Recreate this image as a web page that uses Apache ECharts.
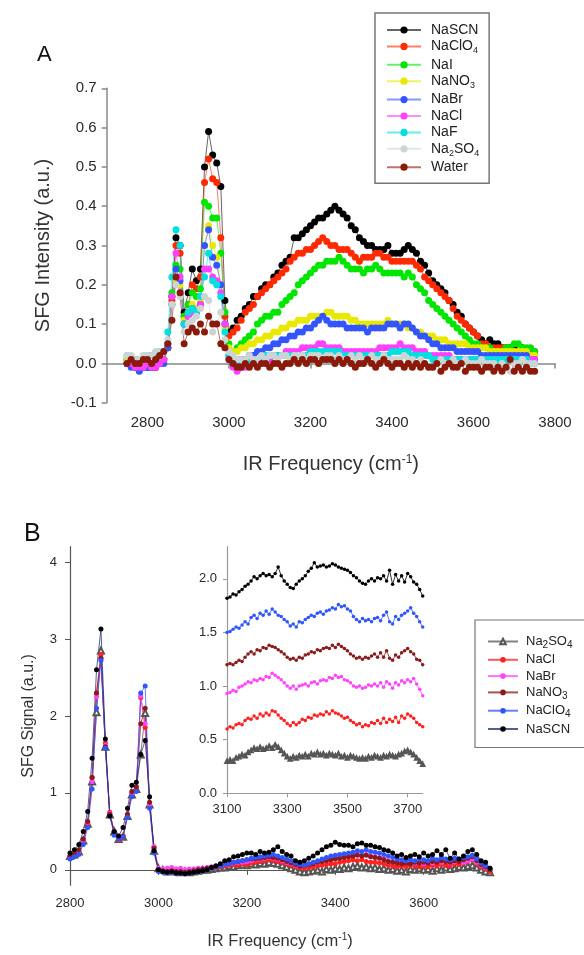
<!DOCTYPE html>
<html><head><meta charset="utf-8">
<script src="https://cdn.jsdelivr.net/npm/echarts@6/dist/echarts.min.js"></script>
<style>
html,body{margin:0;padding:0;background:#fff;}
#a{position:absolute;left:0;top:0;width:584px;height:480px;}
#b{position:absolute;left:0;top:480px;width:584px;height:475px;}
</style>
</head><body><div id="a"></div><div id="b"></div>
<script>
// ---------- Panel A data (x: 2750..3750 cm-1, step 10) ----------
const freqA = Array.from({length:101}, (_, i) => 2750 + 10 * i);
const namesA = ['NaSCN','NaClO4','NaI','NaNO3','NaBr','NaCl','NaF','Na2SO4','Water'];
const colorsA = ['#000000','#ff2a00','#00e600','#e8e800','#3355ff','#ff40ff','#00e0e0','#ccd4d4','#8b1a0a'];

const a_NaSCN = [0.00,0.00,-0.01,-0.01,-0.01,-0.01,-0.01,-0.01,0.00,
 0.01,0.04,0.17,0.32,0.30,0.13,0.18,0.24,0.21,0.24,0.50,0.59,0.53,0.51,0.45,0.16,0.08,
 0.09,0.11,0.12,0.14,0.15,0.17,0.17,0.19,0.20,0.20,
 0.22,0.23,0.25,0.26,0.27,0.32,0.32,0.33,0.34,0.35,
 0.36,0.37,0.37,0.38,0.39,0.40,0.39,0.38,0.37,0.35,
 0.34,0.32,0.31,0.30,0.30,0.29,0.29,0.29,0.30,0.28,
 0.28,0.28,0.29,0.30,0.29,0.28,0.26,0.25,0.23,0.21,
 0.20,0.19,0.18,0.16,0.15,0.13,0.12,0.10,0.09,0.08,
 0.07,0.06,0.05,0.06,0.05,0.05,0.04,0.04,0.04,0.04,
 0.03,0.04,0.03,0.03,0.02];
const a_NaClO4 = [0.01,0.00,0.00,-0.01,0.00,0.00,0.00,-0.01,0.00,
 0.01,0.04,0.16,0.30,0.28,0.12,0.15,0.20,0.19,0.22,0.46,0.52,0.47,0.46,0.32,0.12,0.07,
 0.08,0.09,0.11,0.13,0.14,0.15,0.17,0.18,0.19,0.20,
 0.21,0.22,0.23,0.24,0.26,0.27,0.28,0.28,0.29,0.29,
 0.30,0.31,0.32,0.31,0.30,0.30,0.29,0.29,0.29,0.28,
 0.27,0.26,0.27,0.27,0.27,0.28,0.28,0.27,0.27,0.26,
 0.26,0.26,0.26,0.26,0.26,0.25,0.24,0.22,0.21,0.20,
 0.19,0.18,0.17,0.16,0.14,0.12,0.11,0.10,0.09,0.08,
 0.07,0.05,0.05,0.04,0.04,0.04,0.04,0.04,0.03,0.03,
 0.03,0.03,0.03,0.03,0.03];
const a_NaI = [0.01,0.00,0.00,0.00,0.01,0.00,0.00,0.00,0.01,
 0.01,0.05,0.18,0.25,0.24,0.12,0.15,0.18,0.17,0.19,0.41,0.40,0.37,0.37,0.28,0.13,0.05,
 0.03,0.04,0.05,0.06,0.07,0.08,0.10,0.11,0.12,0.12,
 0.13,0.13,0.15,0.16,0.17,0.18,0.20,0.21,0.22,0.23,
 0.24,0.25,0.25,0.26,0.26,0.26,0.27,0.26,0.25,0.24,
 0.24,0.24,0.23,0.24,0.24,0.25,0.24,0.23,0.23,0.23,
 0.23,0.23,0.22,0.23,0.22,0.20,0.19,0.18,0.16,0.15,
 0.14,0.13,0.12,0.11,0.10,0.09,0.08,0.07,0.06,0.05,
 0.05,0.04,0.04,0.04,0.03,0.03,0.03,0.04,0.04,0.05,
 0.05,0.04,0.04,0.04,0.03];
const a_NaNO3 = [0.01,0.01,0.00,0.00,0.00,0.01,0.00,0.00,0.00,
 0.01,0.04,0.15,0.21,0.20,0.11,0.13,0.15,0.14,0.16,0.30,0.35,0.30,0.27,0.20,0.09,0.04,
 0.03,0.03,0.04,0.04,0.05,0.05,0.06,0.06,0.07,0.07,
 0.08,0.08,0.09,0.09,0.10,0.10,0.11,0.11,0.11,0.12,
 0.12,0.12,0.12,0.13,0.13,0.12,0.12,0.12,0.12,0.11,
 0.11,0.10,0.10,0.10,0.10,0.10,0.10,0.10,0.11,0.10,
 0.10,0.10,0.10,0.09,0.09,0.08,0.08,0.07,0.07,0.07,
 0.06,0.06,0.06,0.05,0.05,0.05,0.05,0.05,0.04,0.04,
 0.04,0.04,0.04,0.03,0.03,0.03,0.03,0.03,0.03,0.03,
 0.03,0.03,0.03,0.02,0.02];
const a_NaBr = [0.00,-0.01,-0.01,-0.02,-0.01,-0.01,-0.01,0.00,0.00,
 0.00,0.04,0.15,0.24,0.21,0.10,0.12,0.14,0.13,0.15,0.30,0.34,0.27,0.25,0.20,0.10,0.02,
 0.00,0.00,0.01,0.01,0.02,0.02,0.03,0.03,0.04,0.04,
 0.05,0.05,0.06,0.06,0.07,0.07,0.08,0.08,0.09,0.09,
 0.10,0.11,0.12,0.11,0.10,0.10,0.10,0.10,0.09,0.09,
 0.09,0.09,0.09,0.08,0.09,0.09,0.09,0.09,0.10,0.10,
 0.10,0.09,0.10,0.10,0.09,0.08,0.07,0.07,0.06,0.05,
 0.05,0.04,0.04,0.04,0.04,0.03,0.03,0.03,0.03,0.03,
 0.03,0.02,0.02,0.02,0.02,0.02,0.02,0.02,0.02,0.02,
 0.02,0.02,0.02,0.01,0.01];
const a_NaCl = [0.00,0.00,-0.01,-0.01,-0.01,0.00,-0.01,-0.01,0.00,
 0.01,0.05,0.17,0.28,0.22,0.10,0.12,0.13,0.13,0.15,0.24,0.24,0.22,0.21,0.18,0.10,0.01,
 -0.01,-0.02,-0.01,-0.01,0.00,0.00,0.00,0.01,0.01,0.01,
 0.02,0.02,0.02,0.03,0.03,0.03,0.03,0.04,0.04,0.04,
 0.04,0.05,0.05,0.04,0.04,0.04,0.04,0.03,0.03,0.03,
 0.03,0.03,0.03,0.03,0.03,0.03,0.04,0.04,0.04,0.04,
 0.04,0.05,0.04,0.04,0.04,0.03,0.03,0.03,0.02,0.02,
 0.02,0.02,0.02,0.02,0.01,0.01,0.01,0.01,0.01,0.01,
 0.01,0.01,0.01,0.01,0.01,0.01,0.01,0.01,0.01,0.01,
 0.01,0.01,0.01,0.01,0.01];
const a_NaF = [0.02,0.01,0.01,0.01,0.01,0.02,0.02,0.02,0.03,
 0.03,0.08,0.22,0.34,0.30,0.10,0.13,0.14,0.13,0.17,0.22,0.28,0.21,0.20,0.17,0.08,0.02,
 0.00,0.01,0.01,0.01,0.01,0.01,0.01,0.01,0.02,0.02,
 0.02,0.02,0.02,0.02,0.02,0.02,0.02,0.02,0.02,0.03,
 0.03,0.03,0.03,0.03,0.03,0.03,0.03,0.02,0.02,0.02,
 0.02,0.02,0.02,0.02,0.02,0.02,0.02,0.02,0.02,0.03,
 0.03,0.03,0.03,0.03,0.02,0.02,0.02,0.02,0.02,0.01,
 0.01,0.01,0.01,0.01,0.01,0.01,0.01,0.01,0.01,0.01,
 0.01,0.01,0.01,0.01,0.01,0.01,0.01,0.01,0.01,0.01,
 0.01,0.01,0.01,0.00,0.00];
const a_Na2SO4 = [0.02,0.02,0.01,0.01,0.02,0.02,0.02,0.03,0.03,
 0.03,0.06,0.15,0.20,0.17,0.08,0.10,0.11,0.12,0.14,0.17,0.16,0.08,0.10,0.13,0.06,0.03,
 0.02,0.01,0.01,0.01,0.02,0.01,0.01,0.02,0.01,0.02,
 0.02,0.01,0.02,0.02,0.01,0.02,0.02,0.02,0.01,0.02,
 0.02,0.02,0.01,0.02,0.02,0.01,0.02,0.01,0.01,0.02,
 0.01,0.02,0.01,0.01,0.02,0.01,0.01,0.02,0.01,0.01,
 0.01,0.01,0.02,0.01,0.01,0.00,0.01,0.00,-0.01,-0.01,
 0.00,0.01,0.00,0.00,0.01,0.00,0.00,0.01,0.00,0.00,
 0.00,0.01,0.00,0.00,0.00,-0.01,0.00,-0.01,-0.02,0.00,
 0.00,0.01,0.00,0.00,0.00];
const a_Water = [0.00,0.01,0.00,0.00,0.01,0.01,0.00,0.01,0.02,
 0.03,0.05,0.11,0.22,0.18,0.05,0.08,0.09,0.08,0.10,0.08,0.12,0.10,0.10,0.05,0.04,0.01,
 0.00,-0.01,-0.01,0.00,-0.01,0.00,-0.01,0.00,0.00,-0.01,
 0.00,0.00,-0.01,0.00,0.00,0.01,0.00,0.01,0.00,0.01,
 0.01,0.00,0.01,0.01,0.01,0.00,0.01,0.00,0.01,0.00,
 -0.01,0.00,0.00,0.01,0.00,-0.01,0.00,0.01,0.00,-0.01,
 0.00,0.00,-0.01,0.00,-0.01,0.00,-0.01,0.00,-0.01,-0.01,
 0.00,-0.02,-0.01,0.00,-0.01,-0.01,0.00,-0.02,-0.01,-0.01,
 -0.01,-0.02,-0.01,-0.01,-0.02,-0.01,-0.02,-0.01,0.01,-0.02,
 -0.01,-0.02,-0.01,-0.02,-0.02];
const valsA = [a_NaSCN,a_NaClO4,a_NaI,a_NaNO3,a_NaBr,a_NaCl,a_NaF,a_Na2SO4,a_Water];
const ticksAx = [2800,3000,3200,3400,3600,3800];

// ---------- Panel B data (main: 2800..3750 step 10) ----------
const freqB = Array.from({length:96}, (_, i) => 2800 + 10 * i);
const namesB = ['Na2SO4','NaCl','NaBr','NaNO3','NaClO4','NaSCN'];
const colorsB = ['#555555','#ff2020','#ff44ff','#8b1a1a','#2f55ff','#000000'];
const b_Na2SO4 = [0.18,0.2,0.24,0.38,0.6,1.15,2.05,2.85,1.6,0.72,
 0.5,0.4,0.43,0.7,0.98,1.05,1.5,2.04,0.85,0.25,
 0.02,0.0,-0.02,0.0,-0.02,-0.03,-0.02,-0.03,-0.02,-0.01,
 0.0,0.0,0.01,0.02,0.03,0.03,0.05,0.04,0.06,0.07,
 0.06,0.08,0.07,0.09,0.08,0.1,0.09,0.08,0.06,0.04,
 0.02,0.0,-0.02,-0.03,-0.02,-0.01,0.0,-0.02,0.01,0.0,
 0.02,0.01,0.03,0.02,0.04,0.05,0.03,0.04,0.02,0.03,
 0.01,0.02,0.0,0.01,-0.01,0.0,-0.02,0.01,0.0,0.02,
 0.0,0.01,-0.01,0.02,0.0,0.03,0.01,0.02,0.04,0.03,
 0.05,0.06,0.03,0.0,-0.02,-0.03];
const b_NaCl = [0.16,0.18,0.22,0.36,0.6,1.2,2.3,2.8,1.65,0.75,
 0.5,0.38,0.42,0.72,1.0,1.05,2.24,1.85,0.82,0.3,
 0.0,-0.02,-0.01,-0.03,-0.02,-0.03,-0.02,-0.02,-0.01,0.0,
 0.0,0.01,0.02,0.03,0.04,0.05,0.06,0.07,0.06,0.08,
 0.07,0.09,0.1,0.11,0.12,0.13,0.12,0.11,0.1,0.08,
 0.06,0.04,0.03,0.02,0.03,0.04,0.05,0.06,0.07,0.08,
 0.08,0.1,0.11,0.12,0.13,0.12,0.13,0.11,0.1,0.1,
 0.09,0.08,0.06,0.05,0.04,0.05,0.04,0.06,0.05,0.04,
 0.05,0.04,0.06,0.05,0.07,0.06,0.05,0.08,0.07,0.09,
 0.11,0.13,0.08,0.04,0.01,-0.02];
const b_NaBr = [0.17,0.19,0.24,0.38,0.62,1.15,2.25,2.75,1.62,0.73,
 0.5,0.4,0.44,0.7,1.0,1.08,2.26,1.9,0.85,0.3,
 0.02,0.01,0.02,0.03,0.01,0.02,0.0,0.01,0.01,0.02,
 0.02,0.03,0.04,0.05,0.06,0.07,0.08,0.09,0.1,0.1,
 0.11,0.12,0.13,0.14,0.15,0.16,0.15,0.14,0.12,0.1,
 0.08,0.06,0.06,0.07,0.08,0.09,0.1,0.12,0.13,0.14,
 0.15,0.16,0.17,0.18,0.19,0.2,0.19,0.2,0.18,0.17,
 0.16,0.14,0.12,0.1,0.1,0.09,0.1,0.08,0.09,0.1,
 0.08,0.1,0.09,0.11,0.1,0.12,0.09,0.11,0.12,0.1,
 0.12,0.14,0.1,0.06,0.03,0.0];
const b_NaNO3 = [0.18,0.21,0.26,0.4,0.63,1.2,2.3,2.75,1.6,0.72,
 0.48,0.4,0.44,0.72,1.02,1.08,1.9,2.1,0.88,0.28,
 0.0,-0.01,-0.02,-0.01,-0.02,-0.02,-0.03,-0.02,-0.01,0.0,
 0.01,0.02,0.03,0.05,0.06,0.08,0.09,0.1,0.11,0.12,
 0.13,0.14,0.14,0.15,0.16,0.17,0.16,0.15,0.13,0.11,
 0.09,0.07,0.05,0.06,0.07,0.08,0.1,0.11,0.12,0.13,
 0.14,0.15,0.16,0.17,0.18,0.19,0.18,0.19,0.17,0.16,
 0.15,0.13,0.11,0.1,0.09,0.08,0.09,0.08,0.1,0.09,
 0.1,0.09,0.11,0.1,0.12,0.11,0.1,0.12,0.11,0.13,
 0.15,0.17,0.12,0.07,0.04,0.0];
const b_NaClO4 = [0.14,0.17,0.2,0.33,0.55,1.05,2.1,2.72,1.58,0.7,
 0.45,0.4,0.43,0.68,0.95,1.02,2.3,2.39,0.8,0.22,
 -0.02,-0.03,-0.04,-0.03,-0.05,-0.04,-0.05,-0.04,-0.03,-0.02,
 -0.01,0.0,0.02,0.04,0.05,0.07,0.08,0.1,0.11,0.12,
 0.13,0.15,0.16,0.17,0.18,0.19,0.2,0.18,0.16,0.14,
 0.12,0.09,0.07,0.06,0.08,0.1,0.12,0.14,0.16,0.18,
 0.19,0.2,0.21,0.22,0.23,0.25,0.24,0.26,0.24,0.23,
 0.22,0.2,0.18,0.16,0.14,0.13,0.12,0.13,0.12,0.14,
 0.13,0.12,0.15,0.13,0.16,0.14,0.13,0.15,0.14,0.16,
 0.17,0.19,0.14,0.09,0.05,0.02];
const b_NaSCN = [0.22,0.26,0.33,0.5,0.76,1.45,2.6,3.13,1.7,0.7,
 0.5,0.44,0.55,0.8,1.1,1.14,1.5,1.68,0.95,0.25,
 0.0,-0.02,-0.03,-0.02,-0.04,-0.04,-0.05,-0.04,-0.03,-0.02,
 -0.01,0.0,0.03,0.05,0.08,0.12,0.13,0.17,0.18,0.2,
 0.22,0.22,0.2,0.24,0.22,0.23,0.26,0.3,0.24,0.2,
 0.18,0.12,0.1,0.12,0.15,0.18,0.22,0.26,0.3,0.32,
 0.36,0.33,0.32,0.32,0.3,0.34,0.35,0.32,0.32,0.3,
 0.29,0.26,0.25,0.22,0.18,0.2,0.16,0.18,0.2,0.17,
 0.22,0.18,0.2,0.25,0.2,0.26,0.15,0.22,0.14,0.18,
 0.24,0.26,0.2,0.12,0.1,0.02];
const valsB = [b_Na2SO4,b_NaCl,b_NaBr,b_NaNO3,b_NaClO4,b_NaSCN];
const ticksBx = [2800,3000,3200,3400,3600];
const ticksBy = [0,1,2,3,4];

// ---------- Inset data (3100..3750 step 10, offset traces) ----------
const freqI = Array.from({length:66}, (_, i) => 3100 + 10 * i);
const i_Na2SO4 = [0.3,0.31,0.3,0.33,0.34,0.36,0.35,0.38,0.4,0.42,
 0.41,0.43,0.41,0.42,0.44,0.42,0.45,0.43,0.4,0.37,
 0.34,0.32,0.34,0.33,0.35,0.34,0.36,0.34,0.37,0.36,
 0.38,0.36,0.37,0.35,0.37,0.36,0.35,0.37,0.34,0.35,
 0.33,0.35,0.34,0.33,0.32,0.33,0.32,0.34,0.33,0.35,
 0.34,0.33,0.35,0.34,0.36,0.35,0.34,0.36,0.37,0.39,
 0.4,0.38,0.36,0.33,0.3,0.27];
const i_NaCl = [0.6,0.62,0.61,0.64,0.65,0.64,0.68,0.7,0.69,0.72,
 0.7,0.74,0.72,0.75,0.73,0.77,0.76,0.73,0.7,0.68,
 0.65,0.63,0.66,0.64,0.66,0.69,0.68,0.71,0.7,0.73,
 0.72,0.74,0.73,0.76,0.74,0.77,0.75,0.74,0.72,0.7,
 0.71,0.68,0.66,0.64,0.65,0.62,0.64,0.63,0.66,0.65,
 0.68,0.65,0.7,0.66,0.69,0.67,0.71,0.66,0.72,0.7,
 0.74,0.72,0.7,0.66,0.64,0.62];
const i_NaBr = [0.93,0.94,0.96,0.95,0.99,1.0,1.02,1.04,1.03,1.06,
 1.05,1.07,1.06,1.09,1.08,1.12,1.1,1.08,1.06,1.03,
 1.0,0.98,1.0,0.97,1.0,1.01,1.02,1.0,1.03,1.04,
 1.02,1.05,1.06,1.05,1.08,1.07,1.1,1.08,1.09,1.06,
 1.05,1.03,1.0,0.99,1.0,0.98,0.99,1.01,1.0,1.02,
 1.0,1.03,0.99,1.04,1.02,0.98,1.03,1.01,1.05,1.03,
 1.06,1.04,1.07,1.02,0.97,0.91];
const i_NaNO3 = [1.2,1.21,1.2,1.22,1.24,1.23,1.27,1.3,1.32,1.3,
 1.34,1.33,1.36,1.35,1.38,1.37,1.36,1.34,1.32,1.3,
 1.27,1.25,1.26,1.24,1.27,1.26,1.29,1.3,1.32,1.31,
 1.34,1.33,1.35,1.36,1.35,1.38,1.36,1.39,1.37,1.35,
 1.33,1.3,1.28,1.26,1.27,1.25,1.27,1.26,1.28,1.3,
 1.27,1.31,1.27,1.33,1.26,1.24,1.29,1.27,1.31,1.33,
 1.35,1.32,1.3,1.25,1.24,1.2];
const i_NaClO4 = [1.5,1.51,1.53,1.55,1.54,1.57,1.6,1.58,1.64,1.66,
 1.63,1.68,1.66,1.7,1.67,1.72,1.69,1.66,1.65,1.62,
 1.6,1.56,1.58,1.55,1.6,1.59,1.62,1.64,1.66,1.65,
 1.68,1.69,1.67,1.7,1.71,1.73,1.72,1.76,1.74,1.75,
 1.72,1.7,1.65,1.62,1.6,1.63,1.61,1.62,1.6,1.63,
 1.64,1.61,1.66,1.69,1.6,1.58,1.65,1.62,1.66,1.68,
 1.7,1.73,1.68,1.65,1.6,1.55];
const i_NaSCN = [1.82,1.83,1.86,1.85,1.88,1.9,1.93,1.95,1.98,2.02,
 2.0,2.03,2.05,2.03,2.04,2.02,2.05,2.11,2.03,1.98,
 1.95,1.92,1.91,1.95,1.98,2.0,2.03,2.07,2.1,2.15,
 2.11,2.12,2.13,2.11,2.12,2.14,2.13,2.11,2.1,2.09,
 2.08,2.06,2.03,2.01,1.98,1.96,1.95,1.98,2.0,1.98,
 2.01,2.0,2.03,1.98,2.08,1.95,2.04,1.98,2.03,1.97,
 2.05,2.02,1.97,1.95,1.9,1.84];
const valsI = [i_Na2SO4,i_NaCl,i_NaBr,i_NaNO3,i_NaClO4,i_NaSCN];
const ticksIx = [3100,3300,3500,3700];
const ticksIy = [0,0.5,1,1.5,2];

// ---------- helpers ----------
const FONT = '"Liberation Sans", Arial, sans-serif';
function check(list, n, tag){ list.forEach((a,k)=>{ if(a.length!==n) console.error(tag+k+' length '+a.length); }); }
check(valsA,101,'A'); check(valsB,96,'B'); check(valsI,66,'I');
function pts(xs, ys){ return xs.map((x,i)=>[x, ys[i]]); }
function sub(name){ return name.split(/(\d)/).filter(s=>s!=='').map(p=>/^\d$/.test(p)?'{s|'+p+'}':'{n|'+p+'}').join(''); }
function richLeg(fs, sfs){ return { n:{fontSize:fs, lineHeight:fs+4, color:'#222', fontFamily:FONT}, s:{fontSize:sfs, verticalAlign:'bottom', color:'#222', fontFamily:FONT} }; }
function richName(fs){ return { n:{fontSize:fs, lineHeight:fs+2, color:'#333', fontFamily:FONT}, sup:{fontSize:Math.round(fs*0.6), verticalAlign:'top', color:'#333', fontFamily:FONT} }; }
const irName = '{n|IR Frequency (cm}{sup|-1}{n|)}';
const plain = v => String(v);
const oneDec = v => v.toFixed(1);

// ---------- Chart A ----------
const chartA = echarts.init(document.getElementById('a'), null, {renderer:'canvas'});
chartA.setOption({
  animation:false,
  backgroundColor:'#ffffff',
  textStyle:{fontFamily:FONT},
  graphic:[{type:'text', left:37, top:44, style:{text:'A', font:'22px "Liberation Sans", Arial, sans-serif', fill:'#111'}}],
  legend:{
    left:375, top:13, orient:'vertical', padding:[10,10,9,11], itemGap:2.4,
    itemWidth:34, itemHeight:9, borderColor:'#777', borderWidth:1.5, borderRadius:0,
    backgroundColor:'#fff',
    textStyle:{padding:[0,0,0,5], rich:richLeg(14,9)}, formatter:sub, data:namesA
  },
  grid:{left:106.7, right:29, top:88.3, bottom:77.3, containLabel:false},
  xAxis:{
    type:'value', min:2700, max:3800,
    axisLine:{lineStyle:{color:'#888', width:1.5}},
    axisTick:{length:5, customValues:ticksAx, lineStyle:{color:'#888', width:1.5}},
    axisLabel:{customValues:ticksAx, margin:13, fontSize:15, color:'#2a2a2a', formatter:plain},
    splitLine:{show:false},
    name:irName, nameLocation:'middle', nameGap:51, nameTextStyle:{rich:richName(20)}
  },
  yAxis:{
    type:'value', min:-0.1, max:0.7, interval:0.1,
    axisLine:{show:true, lineStyle:{color:'#888', width:1.5}},
    axisTick:{show:true, length:5, lineStyle:{color:'#888', width:1.5}},
    axisLabel:{margin:10, fontSize:15, color:'#2a2a2a', formatter:oneDec},
    splitLine:{show:false},
    name:'SFG Intensity (a.u.)', nameLocation:'middle', nameGap:52,
    nameTextStyle:{fontSize:20, color:'#333', lineHeight:22}
  },
  series: namesA.map((n,k)=>({
    type:'line', name:n, data:pts(freqA, valsA[k]),
    symbol:'circle', symbolSize:7, showSymbol:true, silent:true,
    itemStyle:{color:colorsA[k]},
    lineStyle:{color:colorsA[k], width:1, opacity:0.6},
    emphasis:{disabled:true}
  }))
});

// ---------- Chart B ----------
const chartB = echarts.init(document.getElementById('b'), null, {renderer:'canvas'});
const seriesB = [];
namesB.forEach((n,k)=>{
  const tri = n==='Na2SO4';
  seriesB.push({
    type:'line', name:n, xAxisIndex:0, yAxisIndex:0, data:pts(freqB, valsB[k]),
    symbol: tri ? 'emptyTriangle' : 'circle', symbolSize: tri ? 6 : 5, silent:true,
    itemStyle:{color:colorsB[k], borderWidth: tri ? 1 : 0},
    lineStyle:{color: k===5 ? '#1a2a70' : colorsB[k], width:1, opacity:0.75},
    emphasis:{disabled:true}
  });
});
namesB.forEach((n,k)=>{
  const tri = n==='Na2SO4';
  seriesB.push({
    type:'line', name:n, xAxisIndex:1, yAxisIndex:1, data:pts(freqI, valsI[k]),
    symbol: tri ? 'emptyTriangle' : 'circle', symbolSize: tri ? 3.5 : 3.5, silent:true,
    itemStyle:{color:colorsB[k], borderWidth: tri ? 0.8 : 0},
    lineStyle:{color:colorsB[k], width:1, opacity:0.8},
    emphasis:{disabled:true}
  });
});
chartB.setOption({
  animation:false,
  backgroundColor:'#ffffff',
  textStyle:{fontFamily:FONT},
  graphic:[{type:'text', left:24, top:42, style:{text:'B', font:'25px "Liberation Sans", Arial, sans-serif', fill:'#111'}}],
  legend:{
    left:475, top:140, orient:'vertical', padding:[15,20,12,12], itemGap:3.3,
    itemWidth:30, itemHeight:7, borderColor:'#777', borderWidth:1.2, backgroundColor:'#fff',
    textStyle:{padding:[0,0,0,3], rich:richLeg(13,10)}, formatter:sub, data:namesB
  },
  grid:[
    {left:70, right:94, top:66.7, bottom:69},
    {left:227, right:161.3, top:66.7, bottom:161.7}
  ],
  xAxis:[
    {gridIndex:0, type:'value', min:2800, max:3750,
     axisLine:{lineStyle:{color:'#555', width:1.2}},
     axisTick:{length:5, customValues:ticksBx, lineStyle:{color:'#555'}},
     axisLabel:{customValues:ticksBx, margin:12, fontSize:13, color:'#2a2a2a', formatter:plain},
     splitLine:{show:false},
     name:irName, nameLocation:'middle', nameGap:47, nameTextStyle:{rich:richName(16.5)}},
    {gridIndex:1, type:'value', min:3100, max:3750,
     axisLine:{lineStyle:{color:'#999', width:1.2}},
     axisTick:{length:4, customValues:ticksIx, lineStyle:{color:'#999'}},
     axisLabel:{customValues:ticksIx, margin:10, fontSize:13, color:'#2a2a2a', formatter:plain},
     splitLine:{show:false}}
  ],
  yAxis:[
    {gridIndex:0, type:'value', min:-0.2, max:4.2,
     axisLine:{show:true, lineStyle:{color:'#555', width:1.2}},
     axisTick:{show:true, length:5, customValues:ticksBy, lineStyle:{color:'#555'}},
     axisLabel:{customValues:ticksBy, margin:13, fontSize:13, color:'#2a2a2a', formatter:plain},
     splitLine:{show:false},
     name:'SFG Signal (a.u.)', nameLocation:'middle', nameGap:32,
     nameTextStyle:{fontSize:16, color:'#333', lineHeight:18}},
    {gridIndex:1, type:'value', min:0, max:2.3,
     axisLine:{show:true, lineStyle:{color:'#999', width:1.2}},
     axisTick:{show:true, length:4, customValues:ticksIy, lineStyle:{color:'#999'}},
     axisLabel:{customValues:ticksIy, margin:10, fontSize:13, color:'#2a2a2a', formatter:oneDec},
     splitLine:{show:false}}
  ],
  series: seriesB
});
</script>
</body></html>
